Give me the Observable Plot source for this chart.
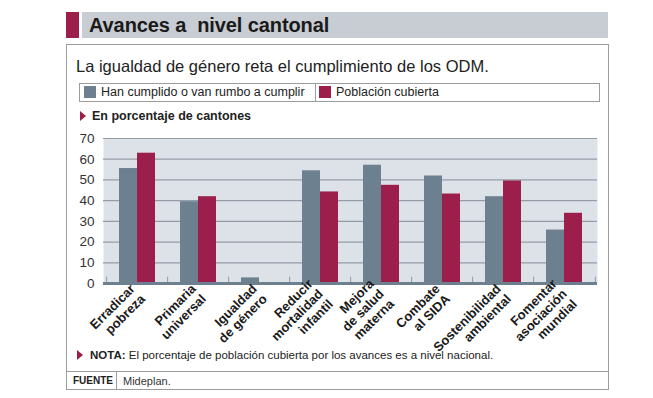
<!DOCTYPE html>
<html><head><meta charset="utf-8">
<script src="https://cdn.jsdelivr.net/npm/d3@7"></script>
<script src="https://cdn.jsdelivr.net/npm/@observablehq/plot@0.6"></script>
<style>
body{margin:0;width:653px;height:398px;background:#fff;position:relative;font-family:"Liberation Sans",Arial,sans-serif;overflow:hidden;color:#222}
.abs{position:absolute;white-space:nowrap}
.tri{position:absolute;width:0;height:0;border-top:5px solid transparent;border-bottom:5px solid transparent;border-left:6px solid #9b1f4a}
</style></head><body>
<div class="abs" style="left:66px;top:12px;width:13px;height:26px;background:#9b1f4a"></div>
<div class="abs" style="left:82px;top:12px;width:526px;height:26px;background:#c8ccd3"></div>
<div class="abs" style="left:89px;top:12px;font-weight:bold;font-size:20px;line-height:26px;color:#1a1a1a;letter-spacing:-0.1px">Avances a&nbsp; nivel cantonal</div>
<div class="abs" style="left:66px;top:44px;width:543px;height:346px;box-sizing:border-box;border:1px solid #9c9c9c"></div>
<div class="abs" style="left:76px;top:57px;font-size:16.5px;line-height:18px;color:#222">La igualdad de género reta el cumplimiento de los ODM.</div>
<div class="abs" style="left:79px;top:83px;width:521px;height:19px;box-sizing:border-box;border:1px solid #9c9c9c"></div>
<div class="abs" style="left:315px;top:83px;width:1px;height:19px;background:#9c9c9c"></div>
<div class="abs" style="left:84px;top:86px;width:12px;height:12px;background:#6d8090"></div>
<div class="abs" id="l1" style="left:101px;top:85px;font-size:12.5px;line-height:15px"></div>
<div class="abs" style="left:319px;top:86px;width:12px;height:12px;background:#9b1f4a"></div>
<div class="abs" id="l2" style="left:336px;top:85px;font-size:12.5px;line-height:15px"></div>
<div class="tri" style="left:80px;top:111px"></div>
<div class="abs" style="left:92px;top:108px;font-size:12.5px;font-weight:bold;line-height:16px">En porcentaje de cantones</div>
<div id="chart" class="abs" style="left:66px;top:125px"></div>
<div class="tri" style="left:77px;top:350px"></div>
<div class="abs" style="left:90px;top:347px;font-size:11.5px;line-height:16px"><b>NOTA:</b> El porcentaje de población cubierta por los avances es a nivel nacional.</div>
<div class="abs" style="left:66px;top:371px;width:543px;height:1px;background:#9c9c9c"></div>
<div class="abs" style="left:116px;top:371px;width:1px;height:18px;background:#9c9c9c"></div>
<div class="abs" style="left:73px;top:374px;font-weight:bold;font-size:10px;line-height:14px">FUENTE</div>
<div class="abs" style="left:123px;top:374px;font-size:11px;line-height:14px;color:#333">Mideplan.</div>
<script>
const categories = ["Erradicar\npobreza","Primaria\nuniversal","Igualdad\nde género","Reducir\nmortalidad\ninfantil","Mejora\nde salud\nmaterna","Combate\nal SIDA","Sostenibilidad\nambiental","Fomentar\nasociación\nmundial"];
const cumplido = [55.5, 39.5, 2.7, 54.4, 57.1, 51.9, 41.9, 25.8];
const poblacion = [62.9, 41.9, 0, 44.2, 47.4, 43.2, 49.5, 33.9];
const seriesNames = ["Han cumplido o van rumbo a cumplir", "Población cubierta"];
const yTicks = [0, 10, 20, 30, 40, 50, 60, 70];
const colors = ["#6d8090", "#9b1f4a"];

document.getElementById("l1").textContent = seriesNames[0];
document.getElementById("l2").textContent = seriesNames[1];

const rows = categories.map((c, i) => ({cat: c, a: cumplido[i], b: poblacion[i]}));
const W = 542, ML = 37, MR = 11;
const step = (W - ML - MR) / categories.length;
const bw = step * (1 - 0.417);

const chart = Plot.plot({
  width: W, height: 250,
  marginLeft: ML, marginRight: MR, marginTop: 13, marginBottom: 92,
  style: {fontFamily: "'Liberation Sans', Arial, sans-serif", fontSize: "13px", color: "#222", background: "transparent", overflow: "visible"},
  x: {domain: categories, paddingInner: 0.417, paddingOuter: 0.2085, label: null},
  y: {domain: [0, 70], label: null},
  marks: [
    Plot.frame({fill: "#dde1e8", stroke: null}),
    Plot.ruleY(yTicks.slice(1), {stroke: "#939da8", strokeWidth: 1.2}),
    Plot.barY(rows, {x: "cat", y: "a", fill: colors[0], insetRight: bw / 2}),
    Plot.barY(rows, {x: "cat", y: "b", fill: colors[1], insetLeft: bw / 2}),
    Plot.ruleX(categories, {x: d => d, y1: 0, y2: 3, dx: -step / 2, stroke: "#8e99a4"}),
    Plot.ruleX(categories.slice(-1), {x: d => d, y1: 0, y2: 3, dx: step / 2, stroke: "#8e99a4"}),
    Plot.ruleY([0], {stroke: colors[0], strokeWidth: 3}),
    Plot.axisY(yTicks, {tickSize: 0, tickPadding: 9, fontSize: 13.5, fill: "#333", label: null}),
    Plot.axisX({tickSize: 0, tickPadding: 8, tickRotate: -45, fontSize: 13, fontWeight: "bold", fill: "#1a1a1a", label: null, lineHeight: 1.1})
  ]
});
document.getElementById("chart").appendChild(chart);
</script>
</body></html>
